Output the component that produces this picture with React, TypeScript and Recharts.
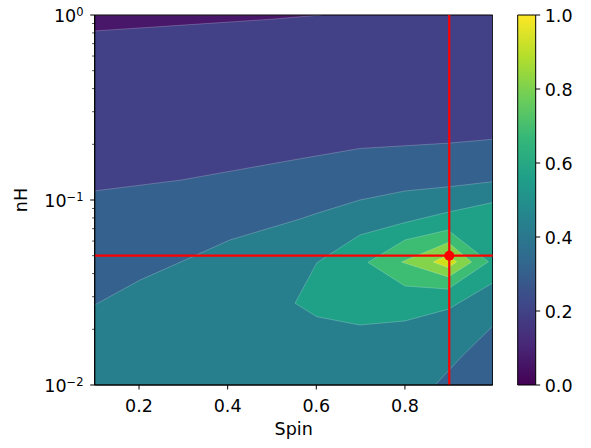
import {
  ComposedChart,
  Area,
  XAxis,
  YAxis,
  ReferenceLine,
  ReferenceArea,
  Scatter,
} from 'recharts';

const FONT = '"DejaVu Sans", sans-serif';
const FS = 17.5;

// axis ticks
const spinTicks = [0.2, 0.4, 0.6, 0.8];
const nHTicks = [
  0.01, 0.02, 0.03, 0.04, 0.05, 0.06, 0.07, 0.08, 0.09,
  0.1, 0.2, 0.3, 0.4, 0.5, 0.6, 0.7, 0.8, 0.9, 1,
];
const cbarTicks = [0, 0.2, 0.4, 0.6, 0.8, 1];
const spinDomain = [0.1, 0.998];
const nHDomain = [0.01, 1];

// marker
const markerSpin = 0.9;
const markerNH = 0.05;

// contour edges (spin, nH)
const darkEdgeSpin = [0.1, 0.3, 0.5, 0.61];
const darkEdgeNH = [0.82, 0.882, 0.949, 1.0];

const purpleEdgeSpin = [0.1, 0.293, 0.563, 0.699, 0.9, 0.998];
const purpleEdgeNH = [0.112, 0.128, 0.167, 0.19, 0.203, 0.213];

const blueEdgeSpin = [0.1, 0.202, 0.3075, 0.405, 0.563, 0.601, 0.6985, 0.8, 0.9, 0.998];
const blueEdgeNH = [0.0271, 0.0369, 0.0478, 0.0608, 0.0789, 0.0847, 0.1, 0.1119, 0.118, 0.1256];

const cornerSpin = [0.868, 0.93, 0.998];
const cornerNH = [0.01, 0.0144, 0.0208];

const outerSpin = [0.552, 0.601, 0.698, 0.8, 0.898, 0.998];
const outerTop = [0.0277, 0.0457, 0.0647, 0.0755, 0.0861, 0.0969];
const outerBottom = [0.0277, 0.0234, 0.0211, 0.0222, 0.0257, 0.0356];

const greenSpin = [0.7165, 0.8, 0.897, 0.9883];
const greenTop = [0.046, 0.0608, 0.0688, 0.0464];
const greenBottom = [0.046, 0.0343, 0.033, 0.0464];

const limeSpin = [0.7925, 0.8977, 0.9504];
const limeTop = [0.0462, 0.0589, 0.0462];
const limeBottom = [0.0462, 0.0384, 0.0462];

const yellowSpin = [0.8638, 0.8977, 0.9166];
const yellowTop = [0.0462, 0.0504, 0.0462];
const yellowBottom = [0.0462, 0.0432, 0.0462];

const viridisStops = [
  '#440154', '#482878', '#3e4989', '#31688e', '#26828e',
  '#1f9e89', '#35b779', '#6ece58', '#b5de2b', '#fde725',
];

const toRows = (spins: number[], lo: number[], hi: number[]) =>
  spins.map((s, i) => ({ spin: s, r: [lo[i], hi[i]] }));
const flat = (n: number, v: number) => Array.from({ length: n }, () => v);

const layers = [
  { key: 'base', color: '#424086', data: toRows(spinDomain, flat(2, 0.01), flat(2, 1)), edge: false },
  { key: 'dark', color: '#481769', data: toRows(darkEdgeSpin, darkEdgeNH, flat(4, 1)), edge: true },
  { key: 'blue', color: '#34618d', data: toRows(purpleEdgeSpin, flat(6, 0.01), purpleEdgeNH), edge: true },
  { key: 'teal', color: '#277f8e', data: toRows(blueEdgeSpin, flat(10, 0.01), blueEdgeNH), edge: true },
  { key: 'corner', color: '#34618d', data: toRows(cornerSpin, flat(3, 0.01), cornerNH), edge: true },
  { key: 'outer', color: '#1fa187', data: toRows(outerSpin, outerBottom, outerTop), edge: true },
  { key: 'green', color: '#3dbc74', data: toRows(greenSpin, greenBottom, greenTop), edge: true },
  { key: 'lime', color: '#84d44b', data: toRows(limeSpin, limeBottom, limeTop), edge: true },
  { key: 'yellow', color: '#d0e11c', data: toRows(yellowSpin, yellowBottom, yellowTop), edge: true },
];

const SpinTick = ({ x, y, payload }: any) => (
  <text x={x} y={y} dy={22.4} textAnchor="middle" fontFamily={FONT} fontSize={FS} fill="#000">
    {payload.value.toFixed(1)}
  </text>
);

const LogTick = ({ x, y, payload }: any) => {
  const lg = Math.log10(payload.value);
  const exp = Math.round(lg);
  const major = Math.abs(lg - exp) < 1e-6;
  return (
    <g>
      <line x1={x} x2={x - (major ? 4.5 : 2.6)} y1={y} y2={y} stroke="#000" strokeWidth={major ? 1 : 0.7} />
      {major && (
        <text x={x - 11.2} y={y + 7.3} textAnchor="end" fontFamily={FONT} fontSize={FS} fill="#000">
          10
          <tspan dy={-6.6} fontSize={11.5}>{exp === 0 ? '0' : '\u2212' + Math.abs(exp)}</tspan>
        </text>
      )}
    </g>
  );
};

const CbarTick = ({ x, y, payload }: any) => (
  <text x={x + 4.5} y={y + 7.3} textAnchor="start" fontFamily={FONT} fontSize={FS} fill="#000">
    {payload.value.toFixed(1)}
  </text>
);

export default function App() {
  return (
    <div style={{ position: 'absolute', left: 0, top: 0, width: 591, height: 448, background: '#fff' }}>
      <div style={{ position: 'absolute', left: 0, top: 0 }}>
        <ComposedChart width={493} height={448} margin={{ top: 15, right: 0.3, bottom: 0, left: 0 }}>
          <XAxis
            dataKey="spin"
            type="number"
            domain={spinDomain}
            allowDataOverflow
            ticks={spinTicks}
            interval={0}
            height={63}
            tick={<SpinTick />}
            tickSize={4.5}
            tickMargin={0}
            tickLine={{ stroke: '#000' }}
            axisLine={{ stroke: '#000' }}
            label={() => (
              <text x={293.7} y={435} textAnchor="middle" fontFamily={FONT} fontSize={FS} fill="#000">
                Spin
              </text>
            )}
          />
          <YAxis
            type="number"
            scale="log"
            domain={nHDomain}
            allowDataOverflow
            ticks={nHTicks}
            interval={0}
            width={94.7}
            tick={<LogTick />}
            tickSize={0}
            tickMargin={0}
            tickLine={false}
            axisLine={{ stroke: '#000' }}
            label={() => (
              <text
                x={27}
                y={200}
                textAnchor="middle"
                fontFamily={FONT}
                fontSize={FS}
                fill="#000"
                transform="rotate(-90, 27, 200)"
              >
                nH
              </text>
            )}
          />
          {layers.map((l) => (
            <Area
              key={l.key}
              data={l.data}
              dataKey="r"
              type="linear"
              fill={l.color}
              fillOpacity={1}
              stroke={l.edge ? 'rgba(255,255,255,0.28)' : 'none'}
              strokeWidth={0.8}
              dot={false}
              activeDot={false}
              isAnimationActive={false}
            />
          ))}
          <ReferenceLine x={markerSpin} stroke="#ff0000" strokeWidth={2.2} />
          <ReferenceLine y={markerNH} stroke="#ff0000" strokeWidth={2.2} />
          <Scatter
            data={[{ spin: markerSpin, nH: markerNH }]}
            dataKey="nH"
            fill="#ff0000"
            isAnimationActive={false}
            shape={(p: any) => <circle cx={p.cx} cy={p.cy} r={5} fill="#ff0000" />}
          />
          <ReferenceArea
            x1={spinDomain[0]}
            x2={spinDomain[1]}
            y1={nHDomain[0]}
            y2={nHDomain[1]}
            fill="none"
            fillOpacity={0}
            stroke="#000"
            strokeWidth={1}
          />
        </ComposedChart>
      </div>
      <div style={{ position: 'absolute', left: 500, top: 0 }}>
        <ComposedChart
          width={91}
          height={448}
          data={[{ v: 0, r: [0, 1] }, { v: 1, r: [0, 1] }]}
          margin={{ top: 15, right: 0, bottom: 63, left: 17.7 }}
        >
          <defs>
            <linearGradient id="viridis" x1="0" y1="1" x2="0" y2="0">
              {viridisStops.map((c, i) => (
                <stop key={c} offset={i / (viridisStops.length - 1)} stopColor={c} />
              ))}
            </linearGradient>
          </defs>
          <XAxis dataKey="v" type="number" domain={[0, 1]} hide />
          <YAxis
            orientation="right"
            type="number"
            domain={[0, 1]}
            ticks={cbarTicks}
            interval={0}
            width={55.3}
            tick={<CbarTick />}
            tickSize={4.5}
            tickMargin={0}
            tickLine={{ stroke: '#000' }}
            axisLine={false}
          />
          <Area
            dataKey="r"
            type="linear"
            fill="url(#viridis)"
            fillOpacity={1}
            stroke="none"
            dot={false}
            activeDot={false}
            isAnimationActive={false}
          />
          <ReferenceArea x1={0} x2={1} y1={0} y2={1} fill="none" fillOpacity={0} stroke="#000" strokeWidth={1} />
        </ComposedChart>
      </div>
    </div>
  );
}
